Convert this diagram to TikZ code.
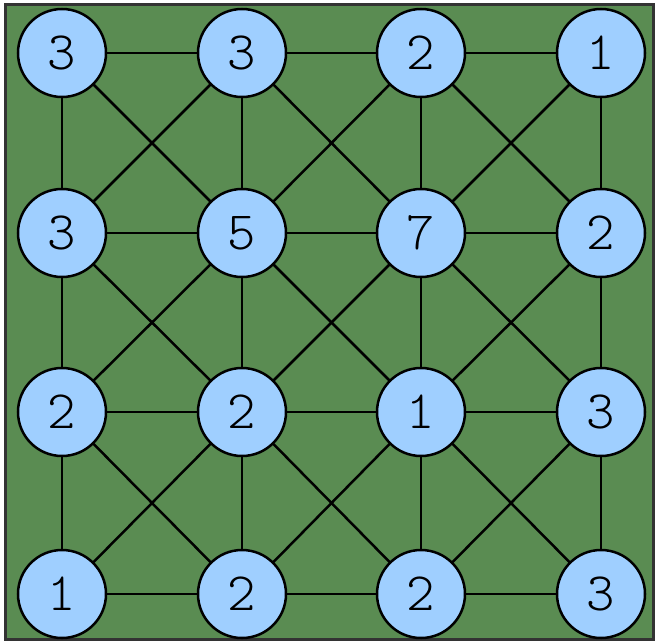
\documentclass[tikz,border=0pt]{standalone}
\definecolor{bggreen}{HTML}{5A8C52}
\definecolor{nodeblue}{HTML}{9FCFFF}
\definecolor{frame}{HTML}{333333}
\begin{document}
\begin{tikzpicture}[x=1pt,y=-1pt,
  vtx/.style={circle,draw=black,fill=nodeblue,line width=2.5pt,minimum size=88pt,inner sep=0pt,font=\fontfamily{lmtt}\fontseries{l}\fontsize{54}{54}\selectfont},
  edge/.style={draw=black,line width=2.5pt}]
\useasboundingbox (0,0) rectangle (660,642);
\draw[fill=bggreen,draw=frame,line width=3pt] (5,5) rectangle (653,639);
\def\xs{{62,242,421,601}}
\def\ys{{53,233,412,594}}
\foreach \lab [count=\k from 0] in {3,3,2,1,3,5,7,2,2,2,1,3,1,2,2,3}{
  \pgfmathtruncatemacro{\c}{mod(\k,4)}
  \pgfmathtruncatemacro{\r}{int(\k/4)}
  \pgfmathsetmacro{\px}{\xs[\c]}
  \pgfmathsetmacro{\py}{\ys[\r]}
  \coordinate (p\r\c) at (\px,\py);
}
% horizontal and vertical edges
\foreach \r in {0,...,3}{
  \foreach \c [evaluate=\c as \n using int(\c+1)] in {0,1,2}{
    \draw[edge] (p\r\c) -- (p\r\n);
    \draw[edge] (p\c\r) -- (p\n\r);
  }
}
% diagonals
\foreach \r [evaluate=\r as \rn using int(\r+1)] in {0,1,2}{
  \foreach \c [evaluate=\c as \cn using int(\c+1)] in {0,1,2}{
    \draw[edge] (p\r\c) -- (p\rn\cn);
    \draw[edge] (p\r\cn) -- (p\rn\c);
  }
}
\foreach \lab [count=\k from 0] in {3,3,2,1,3,5,7,2,2,2,1,3,1,2,2,3}{
  \pgfmathtruncatemacro{\c}{mod(\k,4)}
  \pgfmathtruncatemacro{\r}{int(\k/4)}
  \node[vtx] (n\r\c) at (p\r\c) {\lab};
}
\end{tikzpicture}
\end{document}
